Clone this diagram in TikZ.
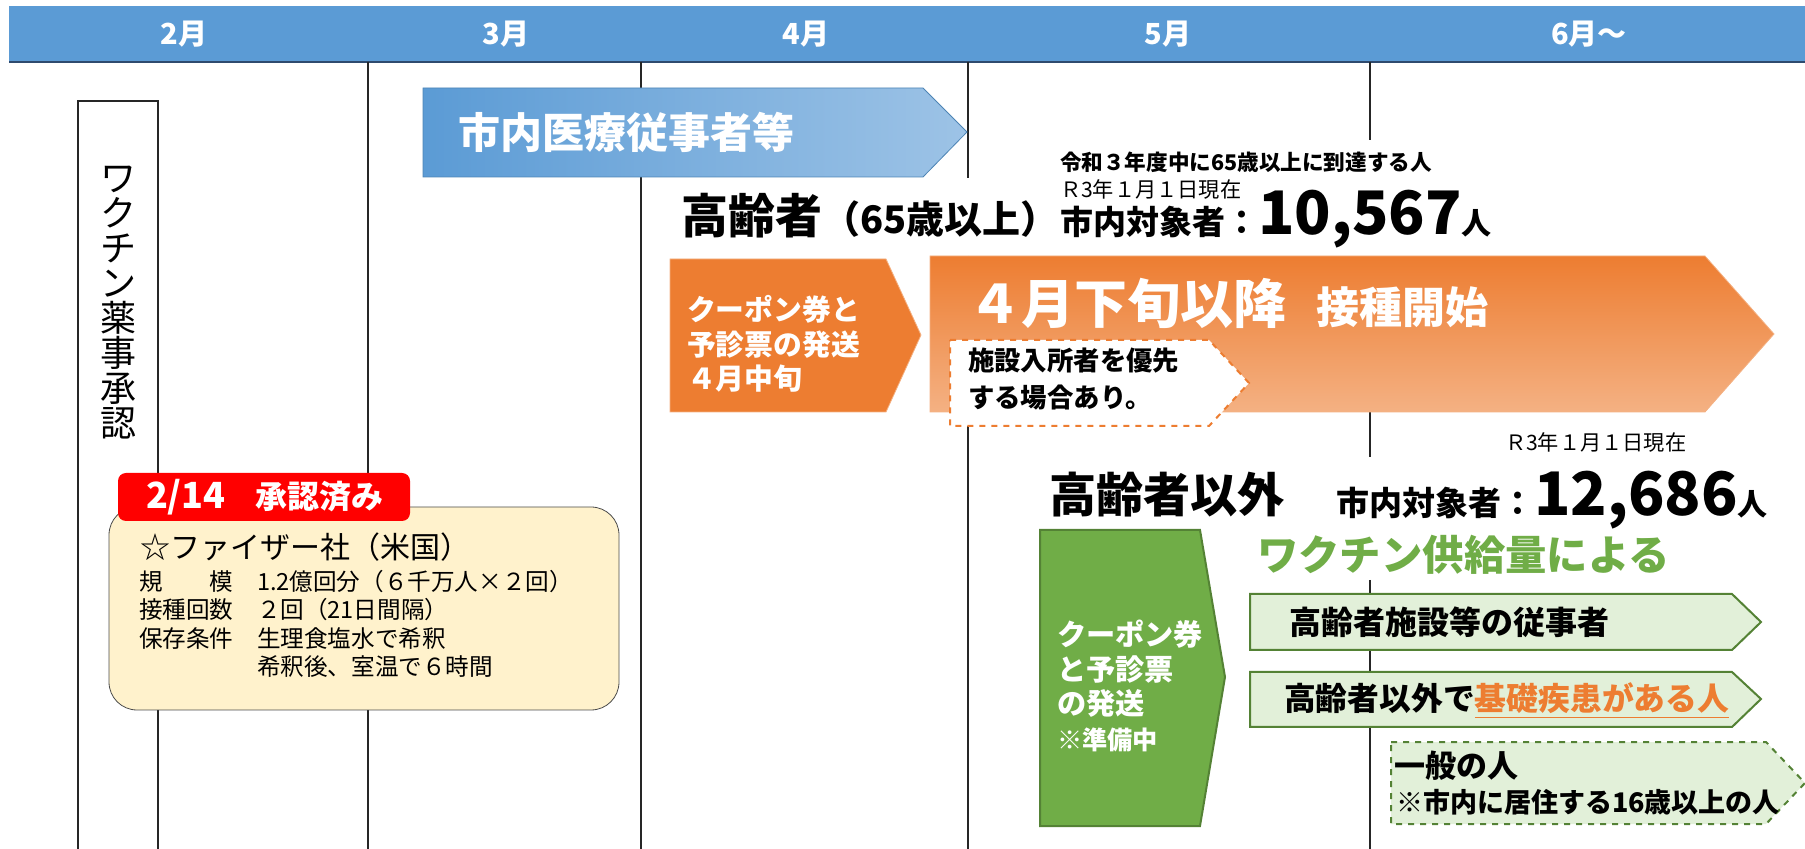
\documentclass[tikz,border=0pt]{standalone}
\usepackage{fontspec}
\setmainfont{Noto Sans CJK JP}
\usetikzlibrary{positioning}

\definecolor{bandblue}{HTML}{5B9BD5}
\definecolor{bandline}{HTML}{2E4A6E}
\definecolor{lightblue}{HTML}{9DC3E6}
\definecolor{orangeA}{HTML}{ED7D31}
\definecolor{orangeB}{HTML}{F4B183}
\definecolor{greenA}{HTML}{70AD47}
\definecolor{greenD}{HTML}{548235}
\definecolor{greenL}{HTML}{E2F0D9}
\definecolor{yellowL}{HTML}{FFF2CC}
\definecolor{tagred}{HTML}{FF0000}

\begin{document}
\begin{tikzpicture}
    [
        x=0.5pt,y=-0.5pt,
        every node/.style={inner sep=0pt,outer sep=0pt},
        gridline/.style={line width=1pt,black!85},
        month/.style={text=white,font=\bfseries\fontsize{14.5}{14.5}\selectfont},
        whitebold/.style={text=white,font=\bfseries},
    ]
    \useasboundingbox (0,0) rectangle (1805,849);
    % The header
    \fill[bandblue] (9,6) rectangle (1805,62);
    \draw[line width=1pt,bandline] (9,62) -- (1805,62);
    \foreach \x/\m [count=\i] in {184/2月,506/3月,806/4月,1168/5月,1589/6月～}
    \node[month] (m\i) at (\x,34) {\m};
    % The month lines
    \draw[gridline] (368,62) -- (368,849);
    \draw[gridline] (641,62) -- (641,849);
    \draw[gridline] (968,62) -- (968,178) (968,256) -- (968,849);
    \draw[gridline] (1370,62) -- (1370,140) (1370,412) -- (1370,457) (1370,580) -- (1370,849);
    % Approval
    \draw[gridline] (78,849) -- (78,101) -- (158,101) -- (158,849);
    \node[font=\fontsize{18}{17.5}\selectfont,align=center] (approval) at (118,303)
    {ワ\\ク\\チ\\ン\\薬\\事\\承\\認};
    \draw[rounded corners=14pt,fill=yellowL,draw=black!70] (109,507) rectangle (619,710);
    \fill[tagred,rounded corners=4pt] (118,473) rectangle (410,521);
    \node[whitebold,anchor=base west] (tag) at (146,509)
    {{\fontsize{18}{18}\selectfont 2/14}\hspace{15pt}{\fontsize{16}{16}\selectfont 承認済み}};
    \node[anchor=base west,font=\fontsize{15}{15}\selectfont] (pfizer) at (140,559)
    {☆ファイザー社（米国）};
    \node[anchor=west,align=left,font=\fontsize{11.8}{14.2}\selectfont] (specs) at (139,624)
    {規　　模　1.2億回分（６千万人×２回）\\接種回数　２回（21日間隔）\\保存条件　生理食塩水で希釈\\　　　　　希釈後、室温で６時間};
    % Medical staff
    \draw[bandblue!85!black,left color=bandblue,right color=lightblue]
    (423,88) -- (923,88) -- (967,132) -- (923,177) -- (423,177) -- cycle;
    \node[whitebold,anchor=west,font=\bfseries\fontsize{21}{21}\selectfont] (staff) at (458,132)
    {市内医療従事者等};
    % Elderly
    \node[anchor=base west,font=\bfseries] (elder) at (681,234)
    {{\fontsize{23.5}{23.5}\selectfont 高齢者}{\fontsize{19}{19}\selectfont （65歳以上）}};
    \node[anchor=base west,font=\bfseries\fontsize{10.8}{10.8}\selectfont] (reach) at (1060,171)
    {令和３年度中に65歳以上に到達する人};
    \node[anchor=base west,font=\fontsize{10.6}{10.6}\selectfont] (dateA) at (1060,198)
    {Ｒ3年１月１日現在};
    \node[anchor=base west,font=\bfseries] (countA) at (1060,235)
    {{\fontsize{16.5}{16.5}\selectfont 市内対象者：}{\fontsize{30}{30}\selectfont 10,567}{\fontsize{15}{15}\selectfont 人}};
    \draw[orangeB,fill=orangeA] (670,259) -- (886,259) -- (921,335) -- (886,412) -- (670,412) -- cycle;
    \node[whitebold,anchor=west,align=left,font=\bfseries\fontsize{14.4}{17.3}\selectfont] (couponA) at (687,344)
    {クーポン券と\\予診票の発送\\４月中旬};
    \draw[orangeB,top color=orangeA,middle color=orangeA,bottom color=orangeB]
    (930,256) -- (1705,256) -- (1774,334) -- (1705,412) -- (930,412) -- cycle;
    \node[whitebold,anchor=base west] (start) at (968,324)
    {{\fontsize{26.5}{26.5}\selectfont ４月下旬以降}\hspace{15pt}{\fontsize{21.5}{21.5}\selectfont 接種開始}};
    \draw[orangeA,dashed,fill=white,line width=1pt]
    (950,340) -- (1209,340) -- (1249,383) -- (1209,426) -- (950,426) -- cycle;
    \node[anchor=west,align=left,font=\bfseries\fontsize{13.2}{18.5}\selectfont] (priority) at (968,379)
    {施設入所者を優先\\する場合あり。};
    % Others
    \node[anchor=base west,font=\fontsize{10.6}{10.6}\selectfont] (dateB) at (1505,451)
    {Ｒ3年１月１日現在};
    \node[anchor=base west,font=\bfseries\fontsize{23.6}{23.6}\selectfont] (others) at (1049,513)
    {高齢者以外};
    \node[anchor=base west,font=\bfseries] (countB) at (1336,516)
    {{\fontsize{16.5}{16.5}\selectfont 市内対象者：}{\fontsize{30}{30}\selectfont 12,686}{\fontsize{15}{15}\selectfont 人}};
    \node[anchor=base west,text=greenA,font=\bfseries\fontsize{20.7}{20.7}\selectfont] (supply) at (1257,571)
    {ワクチン供給量による};
    \draw[greenD,fill=greenA,line width=1pt]
    (1040,530) -- (1200,530) -- (1225,677) -- (1200,826) -- (1040,826) -- cycle;
    \node[whitebold,anchor=west,align=left,font=\bfseries\fontsize{14.6}{17.3}\selectfont] (couponB) at (1057,686)
    {クーポン券\\と予診票\\の発送\\{\fontsize{12.6}{17}\selectfont ※準備中}};
    \draw[greenD,fill=greenL,line width=1pt]
    (1250,594) -- (1732,594) -- (1761,622) -- (1732,650) -- (1250,650) -- cycle;
    \node[anchor=west,font=\bfseries\fontsize{16}{16}\selectfont] (workers) at (1289,622)
    {高齢者施設等の従事者};
    \draw[greenD,fill=greenL,line width=1pt]
    (1250,672) -- (1732,672) -- (1761,699) -- (1732,727) -- (1250,727) -- cycle;
    \node[anchor=base west,font=\bfseries\fontsize{15.9}{15.9}\selectfont] (illness) at (1284,711)
    {高齢者以外で{\color{orangeA}\underline{基礎疾患がある人}}};
    \draw[greenD,dashed,fill=greenL,line width=1pt]
    (1391,742) -- (1766,742) -- (1805,783) -- (1766,824) -- (1391,824) -- cycle;
    \node[anchor=base west,font=\bfseries\fontsize{15.5}{15.5}\selectfont] (general) at (1394,777)
    {一般の人};
    \node[anchor=base west,font=\bfseries\fontsize{13.5}{13.5}\selectfont] (resident) at (1396,812)
    {※市内に居住する16歳以上の人};
\end{tikzpicture}
\end{document}
